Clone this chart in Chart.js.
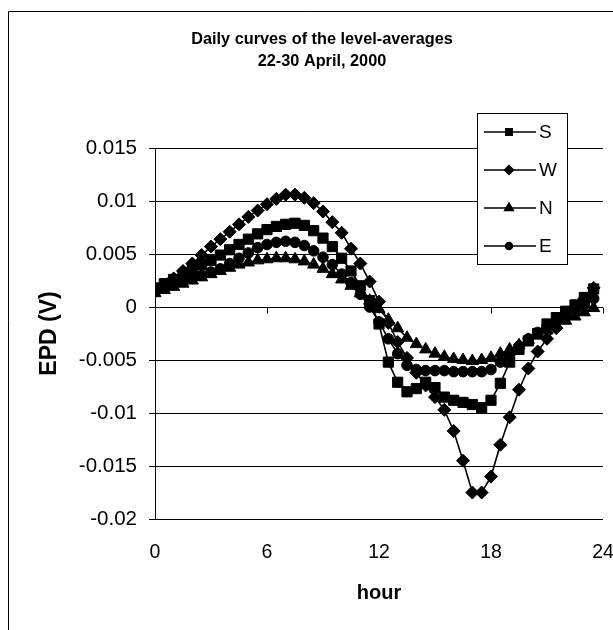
<!DOCTYPE html>
<html>
<head>
<meta charset="utf-8">
<script src="https://cdn.jsdelivr.net/npm/chart.js@4.4.1/dist/chart.umd.min.js"></script>
<style>
  html, body { margin: 0; padding: 0; background: #fff; }
  canvas { display: block; }
</style>
</head>
<body>
<canvas id="epdChart" width="613" height="630"></canvas>
<script>
// half-hour samples
const hours = [0, 0.5, 1, 1.5, 2, 2.5, 3, 3.5, 4, 4.5, 5, 5.5, 6, 6.5, 7, 7.5, 8, 8.5, 9, 9.5, 10, 10.5, 11, 11.5,
               12, 12.5, 13, 13.5, 14, 14.5, 15, 15.5, 16, 16.5, 17, 17.5, 18, 18.5, 19, 19.5, 20, 20.5, 21, 21.5, 22, 22.5, 23, 23.5];

const seriesS = [0.0018, 0.0022, 0.0026, 0.0030, 0.0035, 0.0040, 0.0044, 0.0049, 0.0054, 0.0059, 0.0064, 0.0069,
                 0.0073, 0.0076, 0.0078, 0.0079, 0.0077, 0.0072, 0.0065, 0.0057, 0.0046, 0.0034, 0.0020, 0.0006,
                 -0.0016, -0.0052, -0.0071, -0.0080, -0.0077, -0.0071, -0.0076, -0.0085, -0.0088, -0.0090, -0.0092, -0.0095,
                 -0.0088, -0.0072, -0.0052, -0.0040, -0.0032, -0.0025, -0.0016, -0.0010, -0.0004, 0.0002, 0.0009, 0.0017];

const seriesW = [0.0015, 0.0021, 0.0027, 0.0034, 0.0041, 0.0049, 0.0057, 0.0064, 0.0071, 0.0078, 0.0085, 0.0091,
                 0.0097, 0.0102, 0.0106, 0.0106, 0.0103, 0.0098, 0.0090, 0.0080, 0.0070, 0.0055, 0.0041, 0.0024,
                 0.0005, -0.0015, -0.0033, -0.0048, -0.0062, -0.0074, -0.0085, -0.0097, -0.0117, -0.0145, -0.0175, -0.0175,
                 -0.0160, -0.0130, -0.0104, -0.0078, -0.0058, -0.0042, -0.0030, -0.0020, -0.0010, -0.0001, 0.0008, 0.0018];

const seriesN = [0.0013, 0.0016, 0.0019, 0.0022, 0.0025, 0.0028, 0.0031, 0.0034, 0.0037, 0.0040, 0.0042, 0.0044,
                 0.0045, 0.0046, 0.0046, 0.0045, 0.0043, 0.0040, 0.0036, 0.0031, 0.0026, 0.0020, 0.0013, 0.0006,
                 -0.0002, -0.0012, -0.0020, -0.0029, -0.0035, -0.0040, -0.0044, -0.0047, -0.0049, -0.0050, -0.0051, -0.0050,
                 -0.0048, -0.0044, -0.0040, -0.0036, -0.0031, -0.0027, -0.0022, -0.0017, -0.0013, -0.0009, -0.0005, -0.0001];

const seriesE = [0.0015, 0.0018, 0.0021, 0.0024, 0.0027, 0.0030, 0.0033, 0.0036, 0.0041, 0.0046, 0.0051, 0.0056,
                 0.0059, 0.0061, 0.0062, 0.0061, 0.0058, 0.0053, 0.0047, 0.0040, 0.0031, 0.0023, 0.0012, 0.0000,
                 -0.0014, -0.0030, -0.0044, -0.0055, -0.0059, -0.0060, -0.0060, -0.0060, -0.0061, -0.0061, -0.0061, -0.0061,
                 -0.0059, -0.0052, -0.0044, -0.0037, -0.0030, -0.0024, -0.0018, -0.0013, -0.0008, -0.0003, 0.0002, 0.0008];

const seriesNames = ['S', 'W', 'N', 'E'];
const markerStyles = ['rect', 'rectRot', 'triangle', 'circle'];
const markerSizes = [7.2, 6.5, 7, 5.3];
const legendSizes = [4.5, 4.5, 5, 3.5];

const titleLines = ['Daily curves of the level-averages', '22-30 April, 2000'];
const xTicks = [0, 6, 12, 18, 24];

const FONT = "'Liberation Sans', Arial, sans-serif";

function pairUp(values) {
    return hours.map((h, i) => ({ x: h, y: values[i] }));
}

const allSeries = [seriesS, seriesW, seriesN, seriesE];
const datasets = allSeries.map((vals, i) => ({
    label: seriesNames[i],
    data: pairUp(vals),
    borderColor: '#000',
    borderWidth: 1.6,
    backgroundColor: '#000',
    pointStyle: markerStyles[i],
    pointRadius: markerSizes[i],
    pointBackgroundColor: '#000',
    pointBorderColor: '#000',
    pointBorderWidth: 1,
    tension: 0
}));

// outer frame, title, zero-line ticks, boxed legend
const decorations = {
    id: 'decorations',
    afterDraw(chart) {
        const c = chart.ctx;
        const x = chart.scales.x;
        const y = chart.scales.y;
        c.save();

        c.strokeStyle = '#000';
        c.lineWidth = 1;
        c.beginPath();
        c.moveTo(8.5, 630);
        c.lineTo(8.5, 11.5);
        c.lineTo(613, 11.5);
        c.stroke();

        c.fillStyle = '#000';
        c.font = 'bold 16.3px ' + FONT;
        c.textAlign = 'center';
        c.textBaseline = 'middle';
        c.fillText(titleLines[0], 322, 40);
        c.fillText(titleLines[1], 322, 62);

        const y0 = Math.round(y.getPixelForValue(0)) + 0.5;
        c.beginPath();
        x.ticks.forEach(t => {
            const px = Math.round(x.getPixelForValue(t.value)) + 0.5;
            c.moveTo(px, y0);
            c.lineTo(px, y0 + 6);
        });
        c.stroke();

        // legend box
        c.fillStyle = '#fff';
        c.fillRect(477.5, 113.5, 90, 151);
        c.strokeRect(477.5, 113.5, 90, 151);
        const rows = [132, 170, 208, 246];
        chart.data.datasets.forEach((ds, i) => {
            const ry = rows[i];
            c.beginPath();
            c.lineWidth = 1.5;
            c.moveTo(484, ry);
            c.lineTo(536, ry);
            c.stroke();
            Chart.helpers.drawPoint(c, {
                pointStyle: ds.pointStyle,
                radius: legendSizes[i],
                rotation: 0,
                borderWidth: 1
            }, 509, ry);
            c.fillStyle = '#000';
            c.fill();
            c.font = '19px ' + FONT;
            c.textAlign = 'left';
            c.textBaseline = 'middle';
            c.fillText(ds.label, 539, ry + 1);
        });
        c.restore();
    }
};

new Chart(document.getElementById('epdChart').getContext('2d'), {
    type: 'line',
    data: { datasets: datasets },
    options: {
        responsive: false,
        animation: false,
        layout: { padding: { left: 8, right: 10, top: 148, bottom: 0 } },
        plugins: {
            legend: { display: false },
            title: { display: false },
            tooltip: { enabled: false }
        },
        scales: {
            x: {
                type: 'linear',
                min: 0,
                max: 24,
                grid: { display: false, drawTicks: false },
                border: { display: false },
                ticks: {
                    stepSize: 6,
                    color: '#000',
                    padding: 22,
                    maxRotation: 0,
                    font: { family: FONT, size: 19.5 }
                },
                afterBuildTicks: s => { s.ticks = xTicks.map(v => ({ value: v })); },
                title: {
                    display: true,
                    text: 'hour',
                    color: '#000',
                    font: { family: FONT, size: 20, weight: 'bold' },
                    padding: { top: 0, bottom: 25 }
                },
                afterFit: s => {
                    s.height = 111;
                    s.paddingLeft = 0;
                    s.paddingRight = 0;
                }
            },
            y: {
                min: -0.02,
                max: 0.015,
                grid: { color: '#000', tickLength: 6, lineWidth: 1 },
                border: { display: true, color: '#000', width: 1 },
                ticks: {
                    stepSize: 0.005,
                    color: '#000',
                    padding: 12,
                    font: { family: FONT, size: 20.5 },
                    callback: v => String(Number(v.toFixed(3)))
                },
                title: {
                    display: true,
                    text: 'EPD (V)',
                    color: '#000',
                    font: { family: FONT, size: 23, weight: 'bold' },
                    padding: { top: 28, bottom: 0 }
                },
                afterFit: s => {
                    s.width = 147;
                    s.paddingTop = 0;
                    s.paddingBottom = 0;
                }
            }
        }
    },
    plugins: [decorations]
});
</script>
</body>
</html>
